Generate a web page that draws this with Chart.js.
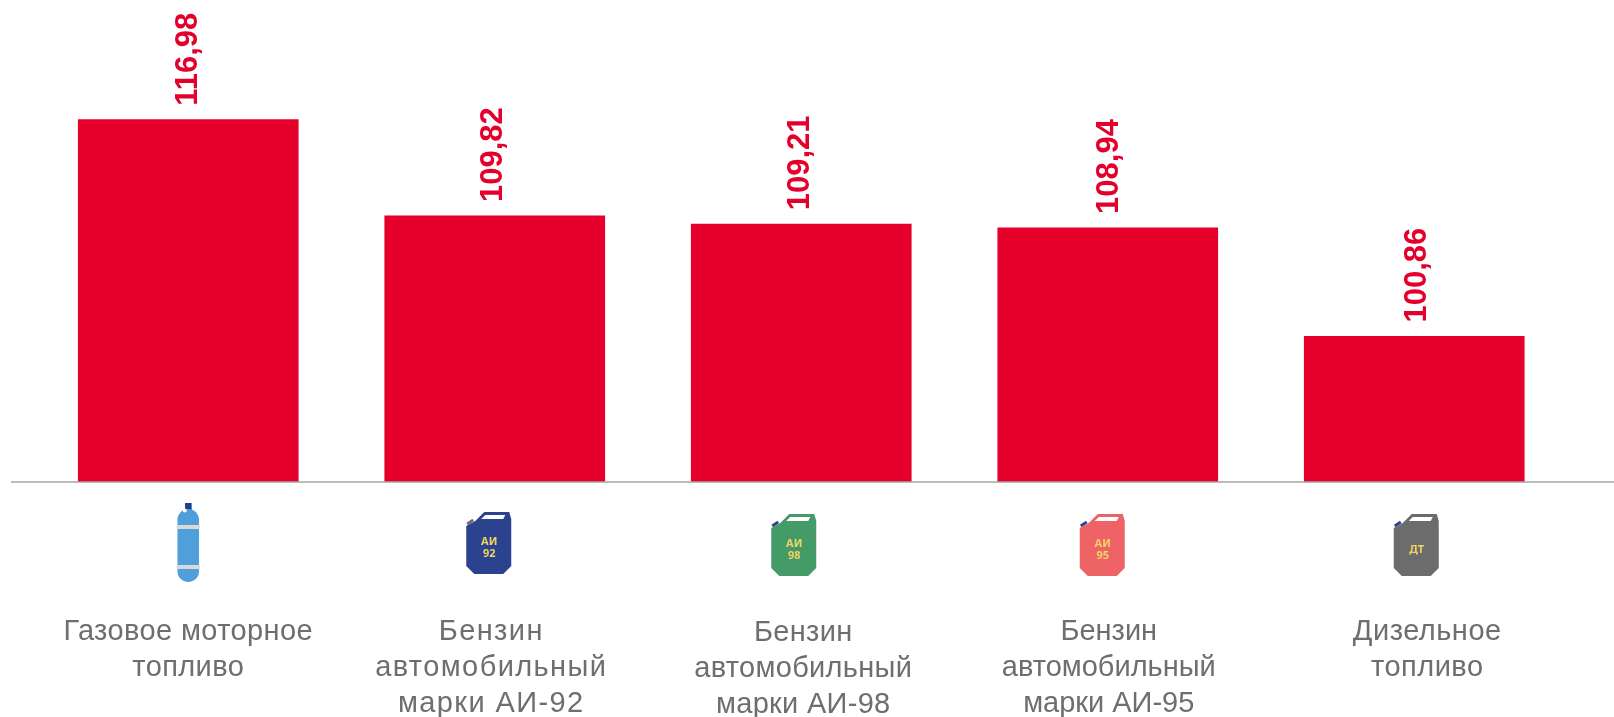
<!DOCTYPE html>
<html lang="ru">
<head>
<meta charset="utf-8">
<style>html,body{margin:0;padding:0;background:#fff}canvas{display:block}</style>
<script src="https://cdn.jsdelivr.net/npm/chart.js@4/dist/chart.umd.min.js"></script>
</head>
<body>
<canvas id="c" width="1614" height="717"></canvas>
<script>
const categories = [
  ["Газовое моторное", "топливо"],
  ["Бензин", "автомобильный", "марки АИ-92"],
  ["Бензин", "автомобильный", "марки АИ-98"],
  ["Бензин", "автомобильный", "марки АИ-95"],
  ["Дизельное", "топливо"]
];
const values = [116.98, 109.82, 109.21, 108.94, 100.86];
const valueLabels = ["116,98", "109,82", "109,21", "108,94", "100,86"];
const valueShiftX = [0, -1, -1, 2, 3];
const labelShiftX = [0, -3.5, 2, 1, 13];
const labelShiftY = [0, 0, 1, 0, 0];
const labelSpacing = ["0.4px", "1.4px", "0.3px", "0px", "0.5px"];
const iconKinds = ["cylinder", "canister", "canister", "canister", "canister"];
const iconColors = ["#4F9FDA", "#2B438F", "#449B68", "#EE6365", "#6C6C6C"];
const iconTexts = [[], ["АИ", "92"], ["АИ", "98"], ["АИ", "95"], ["ДТ"]];
const iconShiftX = [0, -6, -7.5, -5.5, 2];
const iconTop = [503, 512, 514, 514, 514];

const RED = "#E4002B", GRAY = "#6E6E6E", AXIS = "#A6A6A6";

function drawCanister(ctx, x, y, color, texts) {
  const w = 45, h = 62;
  ctx.save();
  ctx.translate(x - w / 2, y);
  ctx.strokeStyle = color === "#2B438F" ? "#6C6C6C" : "#2B438F";
  ctx.lineWidth = 3;
  ctx.beginPath(); ctx.moveTo(1, 12); ctx.lineTo(7, 8); ctx.stroke();
  ctx.fillStyle = color;
  ctx.beginPath();
  [[18,0],[43,0],[45,7],[45,h-8],[37,h],[8,h],[0,h-8],[0,14],[9,9]].forEach((p,i)=> i?ctx.lineTo(p[0],p[1]):ctx.moveTo(p[0],p[1]));
  ctx.closePath(); ctx.fill();
  ctx.fillStyle = "#fff";
  ctx.beginPath();
  [[19,3],[39,3],[37,7],[15,7]].forEach((p,i)=> i?ctx.lineTo(p[0],p[1]):ctx.moveTo(p[0],p[1]));
  ctx.closePath(); ctx.fill();
  ctx.fillStyle = "#F2D264";
  ctx.font = "bold 11px 'Noto Sans'";
  ctx.textAlign = "center"; ctx.textBaseline = "middle";
  if (texts.length === 2) { ctx.fillText(texts[0], 23, 30); ctx.fillText(texts[1], 23, 42); }
  else ctx.fillText(texts[0], 23, 36);
  ctx.restore();
}
function drawCylinder(ctx, x, y, color) {
  ctx.save();
  ctx.translate(x, y);
  ctx.fillStyle = "#1F3F8F"; ctx.fillRect(-3.2, 0, 6.6, 8);
  ctx.fillStyle = color;
  ctx.beginPath(); ctx.roundRect(-10.8, 6, 21.6, 73, 10.8); ctx.fill();
  ctx.fillStyle = "#fff";
  ctx.beginPath(); ctx.arc(-3.5, 7.5, 2, 0, 7); ctx.fill();
  ctx.fillStyle = "#D9D9D9";
  ctx.fillRect(-11.6, 22, 23.2, 4);
  ctx.fillRect(-11.6, 62, 23.2, 4);
  ctx.restore();
}

const overlay = {
  id: "overlay",
  beforeDraw(chart) {
    const xs = chart.scales.x;
    xs.drawLabels = function (area) {
      const ctx = this.ctx;
      this.getLabelItems(area).forEach((it, i) => {
        const o = Object.assign({}, it.options, {
          translation: [it.options.translation[0] + labelShiftX[i], it.options.translation[1] + labelShiftY[i]]
        });
        ctx.letterSpacing = labelSpacing[i];
        Chart.helpers.renderText(ctx, it.label, 0, it.textOffset, it.font, o);
      });
      ctx.letterSpacing = "0px";
    };
  },
  afterDraw(chart) {
    const ctx = chart.ctx, xs = chart.scales.x, ys = chart.scales.y;
    const by = ys.getPixelForValue(ys.min);
    ctx.save();
    ctx.strokeStyle = AXIS; ctx.lineWidth = 1.6;
    ctx.beginPath(); ctx.moveTo(11, by); ctx.lineTo(chart.width, by); ctx.stroke();
    chart.getDatasetMeta(0).data.forEach((bar, i) => {
      ctx.save();
      ctx.translate(bar.x + valueShiftX[i], bar.y - 13.5);
      ctx.rotate(-Math.PI / 2);
      ctx.fillStyle = RED;
      ctx.font = "bold 31px 'Liberation Sans'";
      ctx.textAlign = "left"; ctx.textBaseline = "middle";
      ctx.fillText(valueLabels[i], 0, 0);
      ctx.restore();
      const cx = xs.getPixelForTick(i) + iconShiftX[i];
      if (iconKinds[i] === "cylinder") drawCylinder(ctx, cx, iconTop[i], iconColors[i]);
      else drawCanister(ctx, cx, iconTop[i], iconColors[i], iconTexts[i]);
    });
    ctx.restore();
  }
};

new Chart(document.getElementById("c"), {
  type: "bar",
  data: { labels: categories, datasets: [{ data: values, backgroundColor: RED, borderWidth: 0, barPercentage: 1, categoryPercentage: 0.72 }] },
  options: {
    responsive: false, animation: false,
    layout: { padding: { left: 35, right: 46.5, top: 11.5, bottom: 0 } },
    plugins: { legend: { display: false }, tooltip: { enabled: false }, title: { display: false } },
    scales: {
      y: { display: false, min: 90, max: 125, grid: { display: false } },
      x: {
        grid: { display: false, drawTicks: false }, border: { display: false },
        afterFit(s) { s.height = 235; s.paddingLeft = 0; s.paddingRight = 0; },
        ticks: { autoSkip: false, maxRotation: 0, minRotation: 0, padding: 132, color: GRAY,
          font: { family: "'Liberation Sans'", size: 29, lineHeight: 1.24 } }
      }
    }
  },
  plugins: [overlay]
});
</script>
</body>
</html>
